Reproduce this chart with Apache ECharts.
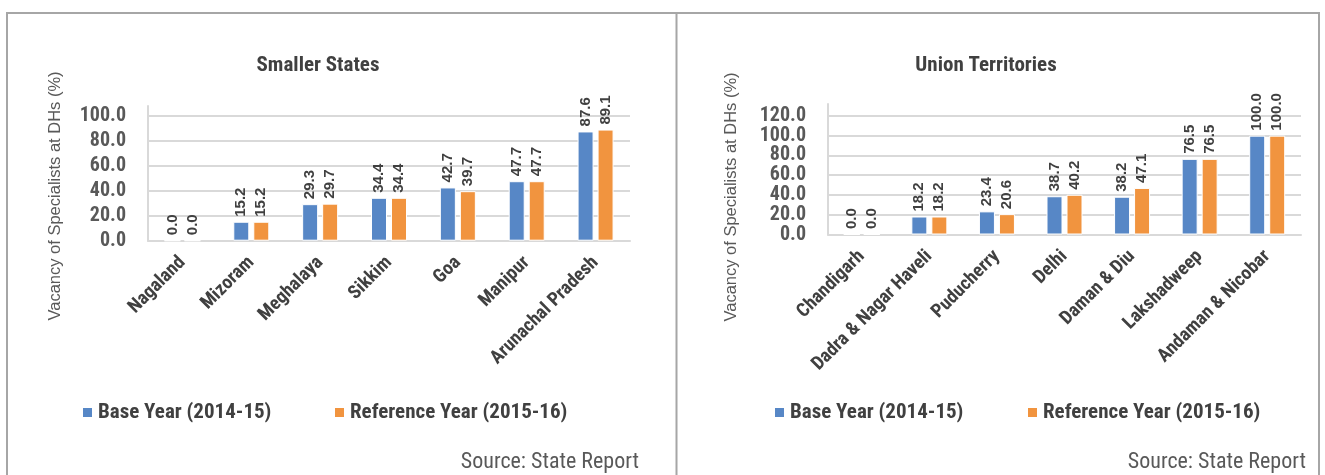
<!DOCTYPE html>
<html>
<head>
<meta charset="utf-8">
<script src="https://cdn.jsdelivr.net/npm/echarts@6/dist/echarts.min.js"></script>
<style>
  html, body { margin: 0; padding: 0; background: #ffffff; }
  #chart { width: 1325px; height: 475px; }
</style>
</head>
<body>
<div id="chart"></div>
<script>
// Vacancy of specialists at district hospitals (%)
const stateCategories = ['Nagaland', 'Mizoram', 'Meghalaya', 'Sikkim', 'Goa', 'Manipur', 'Arunachal Pradesh'];
const stateBase = [0.0, 15.2, 29.3, 34.4, 42.7, 47.7, 87.6];
const stateRef = [0.0, 15.2, 29.7, 34.4, 39.7, 47.7, 89.1];

const utCategories = ['Chandigarh', 'Dadra & Nagar Haveli', 'Puducherry', 'Delhi', 'Daman & Diu', 'Lakshadweep', 'Andaman & Nicobar'];
const utBase = [0.0, 18.2, 23.4, 38.7, 38.2, 76.5, 100.0];
const utRef = [0.0, 18.2, 20.6, 40.2, 47.1, 76.5, 100.0];

// tick labels of the territories' value axis, split over two overlaid axes
// so tightly packed labels are all kept
const utTicksEven = [0, 40, 80, 120];
const utTicksOdd = [20, 60, 100];

const seriesNames = ['Base Year (2014-15)', 'Reference Year (2015-16)'];
const chartTitles = ['Smaller States', 'Union Territories'];
const axisTitle = 'Vacancy of Specialists at DHs (%)';
const sourceNote = 'Source: State Report';

const NARROW = "'Liberation Sans Narrow', 'Arial Narrow', 'Roboto Condensed', 'DejaVu Sans Condensed', sans-serif";
const PLAIN = "'Liberation Sans', Arial, sans-serif";
const BLUE = '#5787c6';
const ORANGE = '#f1943f';
const GRID = '#d9d9d9';

const tickLabelStyle = {
  margin: 22, color: '#595959', fontFamily: NARROW, fontWeight: 'bold', fontSize: 20
};

function yAxis(gridIndex, max, labelValues, drawLines) {
  const label = Object.assign({}, tickLabelStyle, {
    formatter: v => (v % 20 === 0 ? v.toFixed(1) : '')
  });
  if (labelValues) {
    label.customValues = labelValues;
  } else {
    label.showMaxLabel = false;
  }
  return {
    type: 'value', gridIndex, min: 0, max, interval: 20, position: 'left', offset: 0,
    axisLine: { show: drawLines, lineStyle: { color: GRID, width: 2 } },
    axisTick: { show: false },
    splitLine: { show: drawLines, showMaxLine: false, lineStyle: { color: GRID, width: 2 } },
    axisLabel: label
  };
}

function xAxis(gridIndex, data) {
  return {
    type: 'category', gridIndex, data,
    axisLine: { show: true, lineStyle: { color: GRID, width: 2 } },
    axisTick: { show: false },
    axisLabel: {
      interval: 0, rotate: 45, margin: 19,
      color: '#404040', fontFamily: NARROW, fontWeight: 'bold', fontSize: 19
    }
  };
}

function barSeries(name, data, xIdx, yIdx, color) {
  return {
    type: 'bar', name, data, xAxisIndex: xIdx, yAxisIndex: yIdx,
    barWidth: 16, barGap: '25%',
    itemStyle: { color, borderColor: '#ffffff', borderWidth: 1 },
    label: {
      show: true, position: 'top', rotate: 90, align: 'left', verticalAlign: 'middle',
      distance: 5, color: '#404040', fontFamily: PLAIN, fontWeight: 'bold', fontSize: 15,
      formatter: p => p.value.toFixed(1)
    }
  };
}

function legendItem(name, left) {
  return {
    data: [name], left, top: 397, icon: 'rect', itemWidth: 11, itemHeight: 11,
    itemGap: 10, selectedMode: false,
    textStyle: { color: '#404040', fontFamily: NARROW, fontWeight: 'bold', fontSize: 21 }
  };
}

const chart = echarts.init(document.getElementById('chart'), null, { renderer: 'canvas' });

chart.setOption({
  animation: false,
  backgroundColor: '#ffffff',
  title: [
    { text: chartTitles[0], left: 313, top: 50, textAlign: 'center',
      textStyle: { color: '#404040', fontFamily: NARROW, fontWeight: 'bold', fontSize: 21 } },
    { text: chartTitles[1], left: 981, top: 50, textAlign: 'center',
      textStyle: { color: '#404040', fontFamily: NARROW, fontWeight: 'bold', fontSize: 21 } }
  ],
  legend: [
    legendItem(seriesNames[0], 76),
    legendItem(seriesNames[1], 328),
    legendItem(seriesNames[0], 768),
    legendItem(seriesNames[1], 1021)
  ],
  grid: [
    { left: 148, top: 106, width: 482, height: 134.7 },
    { left: 828, top: 104, width: 473, height: 130.5 }
  ],
  xAxis: [xAxis(0, stateCategories), xAxis(1, utCategories)],
  yAxis: [
    yAxis(0, 108, null, true),
    yAxis(1, 132, utTicksEven, true),
    yAxis(1, 132, utTicksOdd, false)
  ],
  series: [
    barSeries(seriesNames[0], stateBase, 0, 0, BLUE),
    barSeries(seriesNames[1], stateRef, 0, 0, ORANGE),
    barSeries(seriesNames[0], utBase, 1, 1, BLUE),
    barSeries(seriesNames[1], utRef, 1, 1, ORANGE)
  ],
  graphic: [
    // panel frame and divider
    { type: 'rect', silent: true, shape: { x: 7, y: 13, width: 1312, height: 520 },
      style: { fill: 'none', stroke: '#a6a6a6', lineWidth: 2 } },
    { type: 'line', silent: true, shape: { x1: 676.5, y1: 13, x2: 676.5, y2: 475 },
      style: { stroke: '#a6a6a6', lineWidth: 2 } },
    // vertical axis titles
    { type: 'text', x: 55, y: 196, rotation: Math.PI / 2, silent: true,
      style: { text: axisTitle, fill: '#595959', font: '16.5px ' + PLAIN, textAlign: 'center', textVerticalAlign: 'middle' } },
    { type: 'text', x: 731, y: 197, rotation: Math.PI / 2, silent: true,
      style: { text: axisTitle, fill: '#595959', font: '16.5px ' + PLAIN, textAlign: 'center', textVerticalAlign: 'middle' } },
    // source notes
    { type: 'text', x: 639, y: 462, silent: true,
      style: { text: sourceNote, fill: '#595959', font: '22px ' + NARROW, textAlign: 'right', textVerticalAlign: 'middle' } },
    { type: 'text', x: 1306, y: 462, silent: true,
      style: { text: sourceNote, fill: '#595959', font: '22px ' + NARROW, textAlign: 'right', textVerticalAlign: 'middle' } }
  ]
});
</script>
</body>
</html>
